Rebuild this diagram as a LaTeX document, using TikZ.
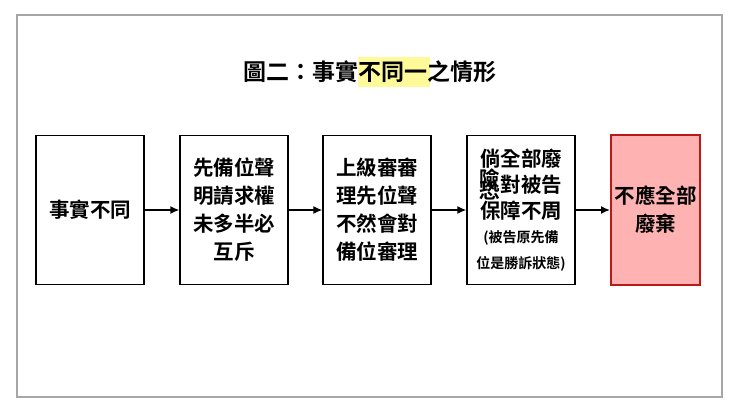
\documentclass[tikz,border=0pt]{standalone}
\usepackage{fontspec}
\newfontfamily\cjk[BoldFont={Noto Sans CJK TC Bold}]{Noto Sans CJK TC}
\usetikzlibrary{arrows.meta}
\begin{document}
\begin{tikzpicture}[x=1pt,y=-1pt,
  box/.style={draw,line width=1.3pt,minimum width=108pt,minimum height=149pt,align=center,inner sep=1pt,font=\cjk\bfseries\fontsize{20.5}{28}\selectfont},
  arr/.style={-{Latex[length=9pt,width=8pt]},line width=1.5pt}]
\useasboundingbox (0,0) rectangle (740,413);
\fill[white] (0,0) rectangle (740,413);
\draw[gray!70,line width=1.8pt] (17,15) rectangle (722,397);
\fill[yellow!40] (358,57) rectangle (430,87);
\node[font=\cjk\bfseries\fontsize{23}{26}\selectfont] (t) at (370,72) {圖二：事實不同一之情形};
\node[box] (a) at (90,210) {事實不同};
\node[box] (b) at (234,210) {先備位聲\\明請求權\\未多半必\\互斥};
\node[box] (c) at (377,210) {上級審審\\理先位聲\\不然會對\\備位審理};
\node[box,font=\cjk\bfseries\fontsize{20.5}{26}\selectfont] (d) at (521,210) {倘全部廢\\\phantom{恐}對被告\\保障不周\\[-2pt]{\fontsize{14}{19}\selectfont(被告原先備}\\{\fontsize{14}{19}\selectfont 位是勝訴狀態)}};
\node[font=\cjk\bfseries\fontsize{20.5}{20}\selectfont,inner sep=0pt] (d1) at (490,191) {恐};
\node[font=\cjk\bfseries\fontsize{20.5}{20}\selectfont,inner sep=0pt] (d2) at (490,179) {險};
\node[box,fill=red!30,draw=red!70!black!90,line width=2pt,minimum width=89pt,minimum height=150pt] (e) at (655.5,210) {不應全部\\廢棄};
\draw[arr] (a) -- (b);
\draw[arr] (b) -- (c);
\draw[arr] (c) -- (d);
\draw[arr] (d) -- (e);
\end{tikzpicture}
\end{document}
